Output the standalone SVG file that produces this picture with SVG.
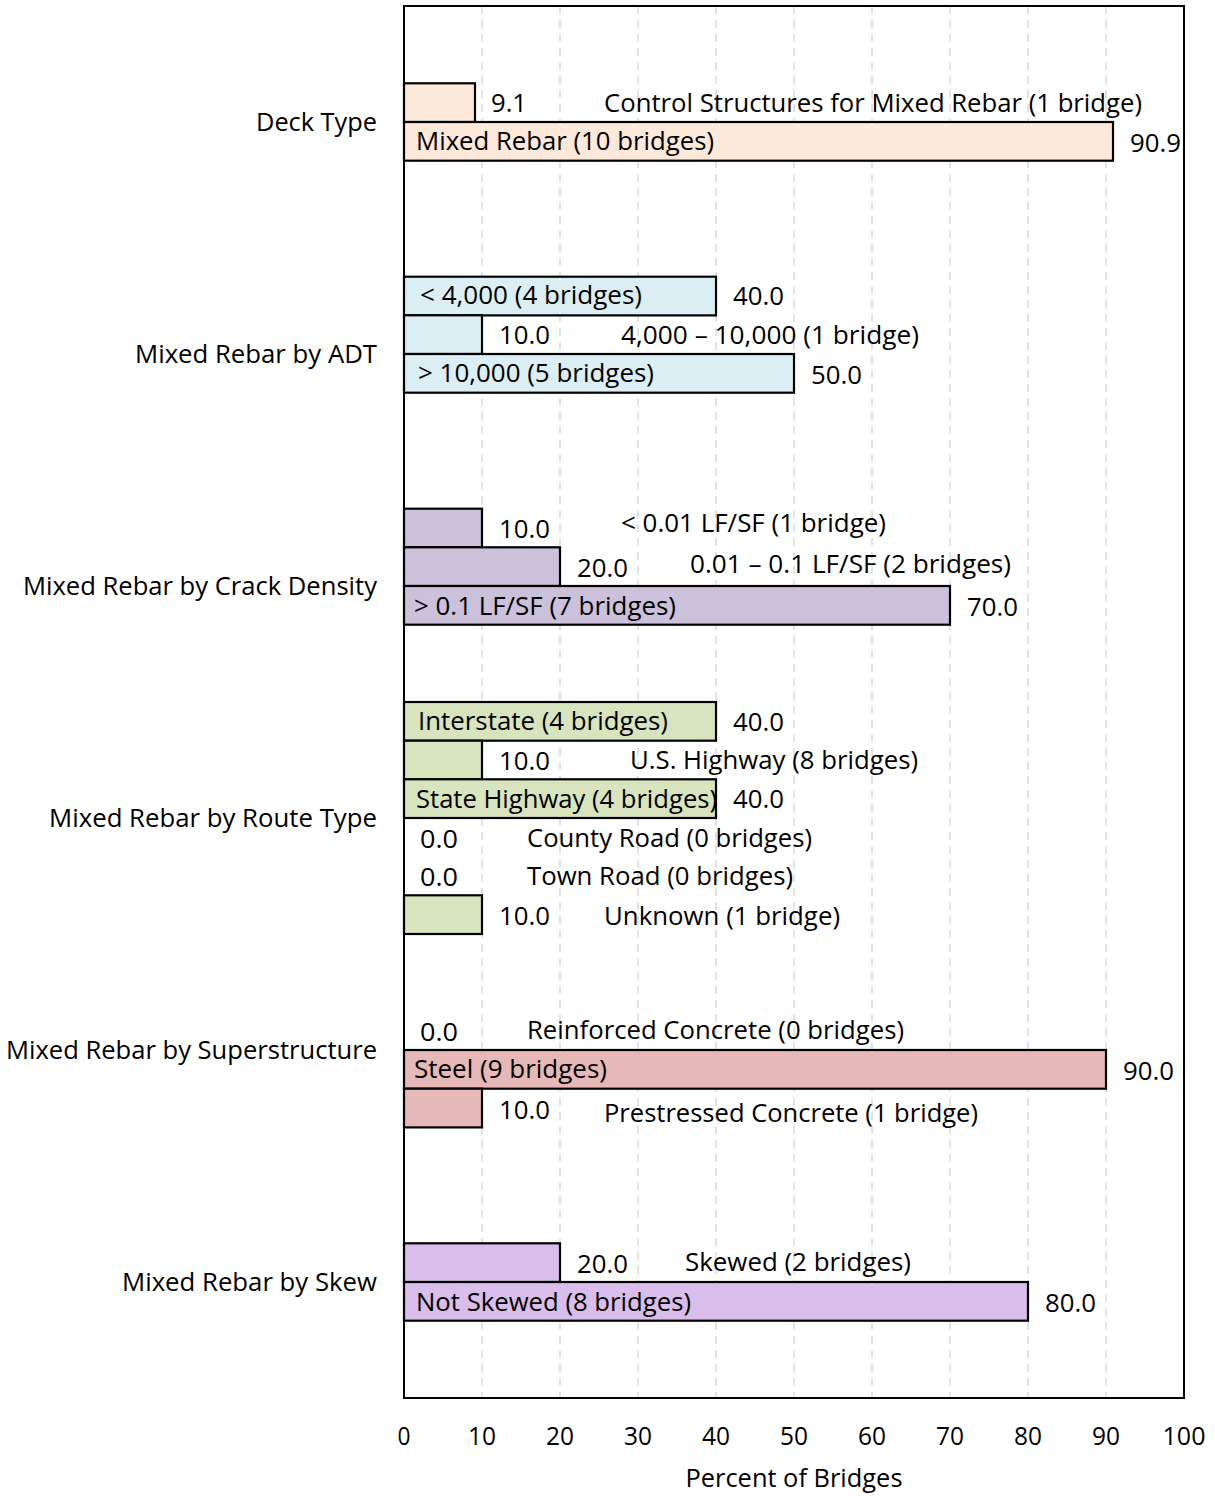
<svg xmlns="http://www.w3.org/2000/svg" width="1215" height="1496" viewBox="0 0 1215 1496">
<style>
text{font-family:"Open Sans","Liberation Sans",sans-serif;font-size:25px;fill:#000}
.cat{text-anchor:end}
.tick{text-anchor:middle;font-size:26px}
.grid{stroke:#D9D9D9;stroke-width:1.5;stroke-dasharray:8 6}
.bar{stroke:#000;stroke-width:2.2}
.deck{fill:#FDE9D9}.adt{fill:#DBEEF3}.crack{fill:#CCC1DA}.route{fill:#D7E4BD}.sup{fill:#E6B9B8}.skew{fill:#D9BDEA}
</style>
<rect x="0" y="0" width="1215" height="1496" fill="#fff"/>
<g id="grid">
<line class="grid" x1="482" y1="6" x2="482" y2="1398"/>
<line class="grid" x1="560" y1="6" x2="560" y2="1398"/>
<line class="grid" x1="638" y1="6" x2="638" y2="1398"/>
<line class="grid" x1="716" y1="6" x2="716" y2="1398"/>
<line class="grid" x1="794" y1="6" x2="794" y2="1398"/>
<line class="grid" x1="872" y1="6" x2="872" y2="1398"/>
<line class="grid" x1="950" y1="6" x2="950" y2="1398"/>
<line class="grid" x1="1028" y1="6" x2="1028" y2="1398"/>
<line class="grid" x1="1106" y1="6" x2="1106" y2="1398"/>
</g>
<g id="deck-type">
<text class="cat" x="377" y="131" textLength="121" lengthAdjust="spacingAndGlyphs">Deck Type</text>
<rect class="bar deck" x="404" y="83.3" width="71" height="38.7"/>
<rect class="bar deck" x="404" y="122" width="709" height="38.7"/>
<text x="491" y="112" textLength="36" lengthAdjust="spacingAndGlyphs">9.1</text>
<text x="604" y="112" textLength="538" lengthAdjust="spacingAndGlyphs">Control Structures for Mixed Rebar (1 bridge)</text>
<text x="416" y="150" textLength="298" lengthAdjust="spacingAndGlyphs">Mixed Rebar (10 bridges)</text>
<text x="1130" y="152" textLength="51" lengthAdjust="spacingAndGlyphs">90.9</text>
</g>
<g id="adt">
<text class="cat" x="377" y="363" textLength="242" lengthAdjust="spacingAndGlyphs">Mixed Rebar by ADT</text>
<rect class="bar adt" x="404" y="276.7" width="312" height="38.7"/>
<rect class="bar adt" x="404" y="315.3" width="78" height="38.7"/>
<rect class="bar adt" x="404" y="354" width="390" height="38.7"/>
<text x="420" y="304" textLength="222" lengthAdjust="spacingAndGlyphs">&lt; 4,000 (4 bridges)</text>
<text x="733" y="305" textLength="51" lengthAdjust="spacingAndGlyphs">40.0</text>
<text x="499" y="344" textLength="51" lengthAdjust="spacingAndGlyphs">10.0</text>
<text x="621" y="344" textLength="298" lengthAdjust="spacingAndGlyphs">4,000 – 10,000 (1 bridge)</text>
<text x="418" y="382" textLength="236" lengthAdjust="spacingAndGlyphs">&gt; 10,000 (5 bridges)</text>
<text x="811" y="384" textLength="51" lengthAdjust="spacingAndGlyphs">50.0</text>
</g>
<g id="crack-density">
<text class="cat" x="377" y="595" textLength="354" lengthAdjust="spacingAndGlyphs">Mixed Rebar by Crack Density</text>
<rect class="bar crack" x="404" y="508.7" width="78" height="38.7"/>
<rect class="bar crack" x="404" y="547.3" width="156" height="38.7"/>
<rect class="bar crack" x="404" y="586" width="546" height="38.7"/>
<text x="499" y="538" textLength="51" lengthAdjust="spacingAndGlyphs">10.0</text>
<text x="621" y="532" textLength="265" lengthAdjust="spacingAndGlyphs">&lt; 0.01 LF/SF (1 bridge)</text>
<text x="577" y="577" textLength="51" lengthAdjust="spacingAndGlyphs">20.0</text>
<text x="690" y="573" textLength="321" lengthAdjust="spacingAndGlyphs">0.01 – 0.1 LF/SF (2 bridges)</text>
<text x="414" y="615" textLength="262" lengthAdjust="spacingAndGlyphs">&gt; 0.1 LF/SF (7 bridges)</text>
<text x="967" y="616" textLength="51" lengthAdjust="spacingAndGlyphs">70.0</text>
</g>
<g id="route-type">
<text class="cat" x="377" y="827" textLength="328" lengthAdjust="spacingAndGlyphs">Mixed Rebar by Route Type</text>
<rect class="bar route" x="404" y="702" width="312" height="38.7"/>
<rect class="bar route" x="404" y="740.7" width="78" height="38.7"/>
<rect class="bar route" x="404" y="779.3" width="312" height="38.7"/>
<rect class="bar route" x="404" y="895.3" width="78" height="38.7"/>
<text x="418" y="730" textLength="250" lengthAdjust="spacingAndGlyphs">Interstate (4 bridges)</text>
<text x="733" y="731" textLength="51" lengthAdjust="spacingAndGlyphs">40.0</text>
<text x="499" y="770" textLength="51" lengthAdjust="spacingAndGlyphs">10.0</text>
<text x="630" y="769" textLength="288" lengthAdjust="spacingAndGlyphs">U.S. Highway (8 bridges)</text>
<text x="416" y="808" textLength="301" lengthAdjust="spacingAndGlyphs">State Highway (4 bridges)</text>
<text x="733" y="808" textLength="51" lengthAdjust="spacingAndGlyphs">40.0</text>
<text x="420" y="848" textLength="38" lengthAdjust="spacingAndGlyphs">0.0</text>
<text x="527" y="847" textLength="285" lengthAdjust="spacingAndGlyphs">County Road (0 bridges)</text>
<text x="420" y="886" textLength="38" lengthAdjust="spacingAndGlyphs">0.0</text>
<text x="527" y="885" textLength="266" lengthAdjust="spacingAndGlyphs">Town Road (0 bridges)</text>
<text x="499" y="925" textLength="51" lengthAdjust="spacingAndGlyphs">10.0</text>
<text x="604" y="925" textLength="236" lengthAdjust="spacingAndGlyphs">Unknown (1 bridge)</text>
</g>
<g id="superstructure">
<text class="cat" x="377" y="1059" textLength="371" lengthAdjust="spacingAndGlyphs">Mixed Rebar by Superstructure</text>
<rect class="bar sup" x="404" y="1050" width="702" height="38.7"/>
<rect class="bar sup" x="404" y="1088.7" width="78" height="38.7"/>
<text x="420" y="1041" textLength="38" lengthAdjust="spacingAndGlyphs">0.0</text>
<text x="527" y="1039" textLength="377" lengthAdjust="spacingAndGlyphs">Reinforced Concrete (0 bridges)</text>
<text x="414" y="1078" textLength="193" lengthAdjust="spacingAndGlyphs">Steel (9 bridges)</text>
<text x="1123" y="1080" textLength="51" lengthAdjust="spacingAndGlyphs">90.0</text>
<text x="499" y="1119" textLength="51" lengthAdjust="spacingAndGlyphs">10.0</text>
<text x="604" y="1122" textLength="374" lengthAdjust="spacingAndGlyphs">Prestressed Concrete (1 bridge)</text>
</g>
<g id="skew">
<text class="cat" x="377" y="1291" textLength="255" lengthAdjust="spacingAndGlyphs">Mixed Rebar by Skew</text>
<rect class="bar skew" x="404" y="1243.3" width="156" height="38.7"/>
<rect class="bar skew" x="404" y="1282" width="624" height="38.7"/>
<text x="577" y="1273" textLength="51" lengthAdjust="spacingAndGlyphs">20.0</text>
<text x="685" y="1271" textLength="226" lengthAdjust="spacingAndGlyphs">Skewed (2 bridges)</text>
<text x="416" y="1311" textLength="275" lengthAdjust="spacingAndGlyphs">Not Skewed (8 bridges)</text>
<text x="1045" y="1312" textLength="51" lengthAdjust="spacingAndGlyphs">80.0</text>
</g>
<g id="frame">
<rect x="404" y="6" width="780" height="1392" fill="none" stroke="#000" stroke-width="2"/>
</g>
<g id="x-axis">
<text class="tick" x="404" y="1445" textLength="13" lengthAdjust="spacingAndGlyphs">0</text>
<text class="tick" x="482" y="1445" textLength="28" lengthAdjust="spacingAndGlyphs">10</text>
<text class="tick" x="560" y="1445" textLength="28" lengthAdjust="spacingAndGlyphs">20</text>
<text class="tick" x="638" y="1445" textLength="28" lengthAdjust="spacingAndGlyphs">30</text>
<text class="tick" x="716" y="1445" textLength="28" lengthAdjust="spacingAndGlyphs">40</text>
<text class="tick" x="794" y="1445" textLength="28" lengthAdjust="spacingAndGlyphs">50</text>
<text class="tick" x="872" y="1445" textLength="28" lengthAdjust="spacingAndGlyphs">60</text>
<text class="tick" x="950" y="1445" textLength="28" lengthAdjust="spacingAndGlyphs">70</text>
<text class="tick" x="1028" y="1445" textLength="28" lengthAdjust="spacingAndGlyphs">80</text>
<text class="tick" x="1106" y="1445" textLength="28" lengthAdjust="spacingAndGlyphs">90</text>
<text class="tick" x="1184" y="1445" textLength="43" lengthAdjust="spacingAndGlyphs">100</text>
<text class="tick" x="794" y="1487" textLength="217" lengthAdjust="spacingAndGlyphs">Percent of Bridges</text>
</g>
</svg>
